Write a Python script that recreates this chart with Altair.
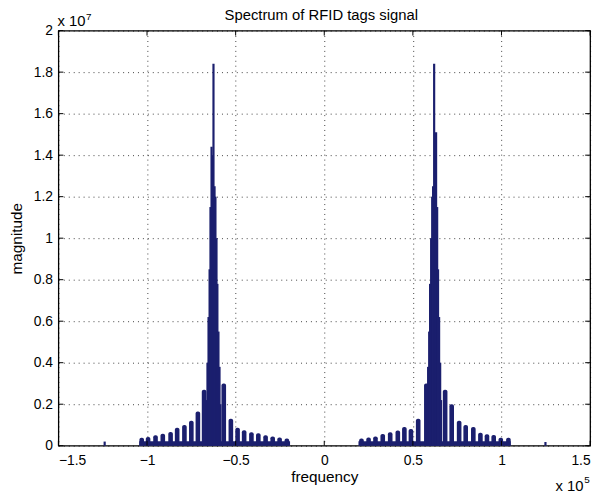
import altair as alt
import pandas as pd

# Units: frequency in 1e5, magnitude in 1e7 (as printed on the axes)

# --- side lobes of the negative-frequency band ---
left_side_freq = [-1.030, -0.994, -0.952, -0.911, -0.867, -0.830, -0.789, -0.750, -0.713, -0.678,
                  -0.567, -0.527, -0.489, -0.452, -0.411, -0.372, -0.331, -0.291, -0.252, -0.211]
left_side_mag = [0.038, 0.042, 0.050, 0.058, 0.066, 0.087, 0.100, 0.120, 0.165, 0.270,
                 0.300, 0.130, 0.087, 0.075, 0.065, 0.060, 0.050, 0.045, 0.040, 0.035]

# --- side lobes of the positive-frequency band ---
right_side_freq = [0.210, 0.250, 0.289, 0.330, 0.372, 0.415, 0.452, 0.489, 0.530, 0.576,
                   0.682, 0.719, 0.761, 0.798, 0.841, 0.881, 0.918, 0.956, 0.996, 1.039]
right_side_mag = [0.035, 0.040, 0.045, 0.057, 0.065, 0.073, 0.090, 0.080, 0.130, 0.300,
                  0.270, 0.200, 0.120, 0.100, 0.090, 0.062, 0.055, 0.052, 0.038, 0.038]

# --- fine spectral lines of the two main lobes ---
left_main_freq = [-0.664, -0.659, -0.653, -0.647, -0.642, -0.636, -0.631, -0.625,
                  -0.619, -0.614, -0.608, -0.603, -0.597, -0.591, -0.586]
left_main_mag = [0.22, 0.40, 0.62, 0.85, 1.15, 1.44, 1.40, 1.84,
                 1.25, 1.20, 1.00, 0.78, 0.55, 0.38, 0.20]
right_main_freq = [0.581, 0.586, 0.592, 0.597, 0.603, 0.609, 0.614, 0.620,
                   0.626, 0.631, 0.637, 0.642, 0.648, 0.654, 0.659]
right_main_mag = [0.20, 0.38, 0.55, 0.78, 1.00, 1.20, 1.25, 1.84,
                  1.40, 1.51, 1.15, 0.85, 0.62, 0.40, 0.22]

# --- isolated small spurs ---
spur_freq = [-1.239, 1.248]
spur_mag = [0.020, 0.018]

# --- low floor of each occupied band ---
band_start = [-1.044, 0.193]
band_end = [-0.193, 1.052]
band_floor = [0.022, 0.022]

x_ticks = [-1.5, -1.0, -0.5, 0.0, 0.5, 1.0, 1.5]
y_ticks = [0.0, 0.2, 0.4, 0.6, 0.8, 1.0, 1.2, 1.4, 1.6, 1.8, 2.0]

W, H = 538, 420
NAVY = "#1b1f6e"
FONT = "Liberation Sans"

side_df = pd.DataFrame({"f": left_side_freq + right_side_freq,
                        "m": left_side_mag + right_side_mag})
main_df = pd.DataFrame({"f": left_main_freq + right_main_freq + spur_freq,
                        "m": left_main_mag + right_main_mag + spur_mag})
band_df = pd.DataFrame({"f": band_start, "f1": band_end, "m": band_floor})
xt_df = pd.DataFrame({"f": x_ticks})
yt_df = pd.DataFrame({"m": y_ticks})
one = pd.DataFrame({"k": [0]})

xs = alt.Scale(domain=[-1.5, 1.5], nice=False, zero=False, padding=0)
ys = alt.Scale(domain=[0, 2], nice=False, padding=0)
xaxis = alt.Axis(values=x_ticks, format="~g", title="frequency", grid=True,
                 labelPadding=8, titlePadding=2)
yaxis = alt.Axis(values=y_ticks, format="~g", title="magnitude", grid=True,
                 labelPadding=6, titlePadding=9)


def X(field):
    return alt.X(field, type="quantitative", scale=xs, axis=xaxis)


def Y(field):
    return alt.Y(field, type="quantitative", scale=ys, axis=yaxis)


floor = alt.Chart(band_df).mark_rect(color=NAVY).encode(
    x=X("f"), x2="f1:Q", y=Y("m"), y2=alt.datum(0))

lobes = alt.Chart(side_df).transform_calculate(
    f0="datum.f - 0.013", f1="datum.f + 0.013"
).mark_rect(color=NAVY, cornerRadiusTopLeft=2, cornerRadiusTopRight=2).encode(
    x=X("f0"), x2="f1:Q", y=Y("m"), y2=alt.datum(0))

lines = alt.Chart(main_df).mark_rule(color=NAVY, strokeWidth=2.2).encode(
    x=X("f"), y=Y("m"), y2=alt.datum(0))

tick_b = alt.Chart(xt_df).mark_rule(color="black").encode(
    x=X("f"), y=alt.value(H), y2=alt.value(H - 5))
tick_t = alt.Chart(xt_df).mark_rule(color="black").encode(
    x=X("f"), y=alt.value(0), y2=alt.value(5))
tick_l = alt.Chart(yt_df).mark_rule(color="black").encode(
    y=Y("m"), x=alt.value(0), x2=alt.value(5))
tick_r = alt.Chart(yt_df).mark_rule(color="black").encode(
    y=Y("m"), x=alt.value(W), x2=alt.value(W - 5))


def txt(s, x, y, size, align="left"):
    return alt.Chart(one).mark_text(font=FONT, fontSize=size, color="black",
                                    align=align, baseline="alphabetic").encode(
        x=alt.value(x), y=alt.value(y), text=alt.value(s))


title = txt("Spectrum of RFID tags signal", W / 2 - 3, -11, 15, "center")
ex7a = txt("x 10", -1, -5, 15)
ex7b = txt("7", 28, -11, 10)
ex5a = txt("x 10", 503, 466, 15)
ex5b = txt("5", 532, 458, 10)

chart = alt.layer(
    floor, lobes, lines, tick_b, tick_t, tick_l, tick_r,
    title, ex7a, ex7b, ex5a, ex5b
).properties(
    width=W, height=H,
    autosize=alt.AutoSizeParams(type="none"),
    padding={"left": 51, "top": 20, "right": 10, "bottom": 50},
).configure_view(
    stroke="black", strokeWidth=1.3
).configure_axis(
    domain=False, ticks=False,
    labelFont=FONT, labelFontSize=14, labelColor="black",
    titleFont=FONT, titleFontSize=15.5, titleFontWeight="normal", titleColor="black",
    gridColor="black", gridDash=[1, 4], gridOpacity=0.75, gridWidth=1,
)

chart.save("out.html", embed_options={"renderer": "svg", "actions": False})
